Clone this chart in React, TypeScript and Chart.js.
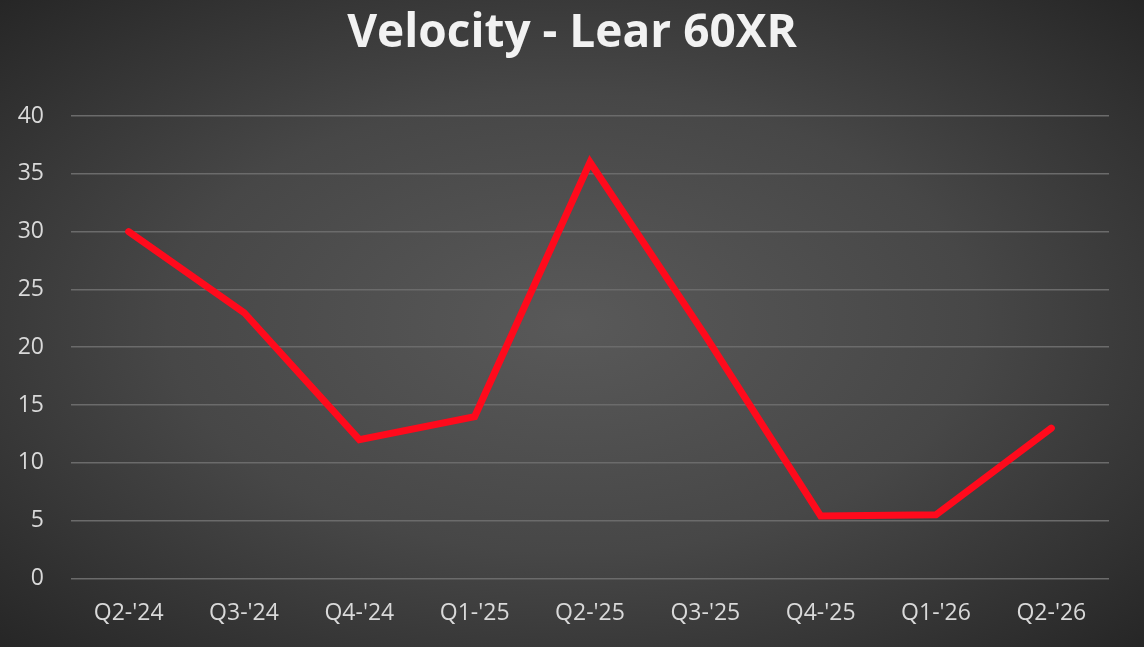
import { useEffect, useRef } from 'react';
import { Chart, registerables, Plugin } from 'chart.js';

Chart.register(...registerables);

const quarters = ["Q2-'24", "Q3-'24", "Q4-'24", "Q1-'25", "Q2-'25", "Q3-'25", "Q4-'25", "Q1-'26", "Q2-'26"];
const velocity = [30, 23, 12, 14, 36, 21, 5.4, 5.5, 13];
const chartTitle = 'Velocity - Lear 60XR';

// title drawn centred on the whole canvas, like the original slide chart
const titlePlugin: Plugin<'line'> = {
  id: 'centredTitle',
  afterDraw(chart) {
    const ctx = chart.ctx;
    ctx.save();
    ctx.fillStyle = '#f2f2f2';
    ctx.font = 'bold 46px "Open Sans"';
    ctx.textAlign = 'center';
    ctx.textBaseline = 'middle';
    ctx.fillText(chartTitle, chart.width / 2, 34);
    ctx.restore();
  },
};

export default function App() {
  const canvasRef = useRef<HTMLCanvasElement>(null);
  const chartRef = useRef<Chart | null>(null);

  useEffect(() => {
    document.body.style.margin = '0';
    if (!canvasRef.current) return;
    if (chartRef.current) chartRef.current.destroy();

    chartRef.current = new Chart(canvasRef.current, {
      type: 'line',
      data: {
        labels: quarters,
        datasets: [
          {
            label: 'Velocity',
            data: velocity,
            borderColor: '#ff0a1c',
            borderWidth: 7,
            pointRadius: 0,
            tension: 0,
            borderJoinStyle: 'miter',
            borderCapStyle: 'round',
          },
        ],
      },
      plugins: [titlePlugin],
      options: {
        animation: false,
        responsive: true,
        maintainAspectRatio: false,
        layout: { padding: { left: 0, right: 35, top: 116, bottom: 7 } },
        plugins: {
          legend: { display: false },
          tooltip: { enabled: false },
          title: { display: false },
        },
        scales: {
          x: {
            offset: true,
            grid: { display: false },
            border: { display: false },
            ticks: {
              color: '#d9d9d9',
              font: { family: 'Open Sans', size: 23 },
              padding: 13,
              maxRotation: 0,
            },
          },
          y: {
            min: 0,
            max: 40,
            afterFit: (scale) => {
              scale.width = 71;
            },
            grid: { color: '#6b6b6b', lineWidth: 1.5, drawTicks: false },
            border: { display: false },
            ticks: {
              stepSize: 5,
              color: '#d9d9d9',
              font: { family: 'Open Sans', size: 23 },
              padding: 27,
            },
          },
        },
      },
    });

    return () => {
      if (chartRef.current) {
        chartRef.current.destroy();
        chartRef.current = null;
      }
    };
  }, []);

  return (
    <div
      style={{
        width: 1144,
        height: 647,
        background: 'radial-gradient(ellipse at center, #595959 0%, #474747 50%, #262626 100%)',
      }}
    >
      <canvas ref={canvasRef}></canvas>
    </div>
  );
}
